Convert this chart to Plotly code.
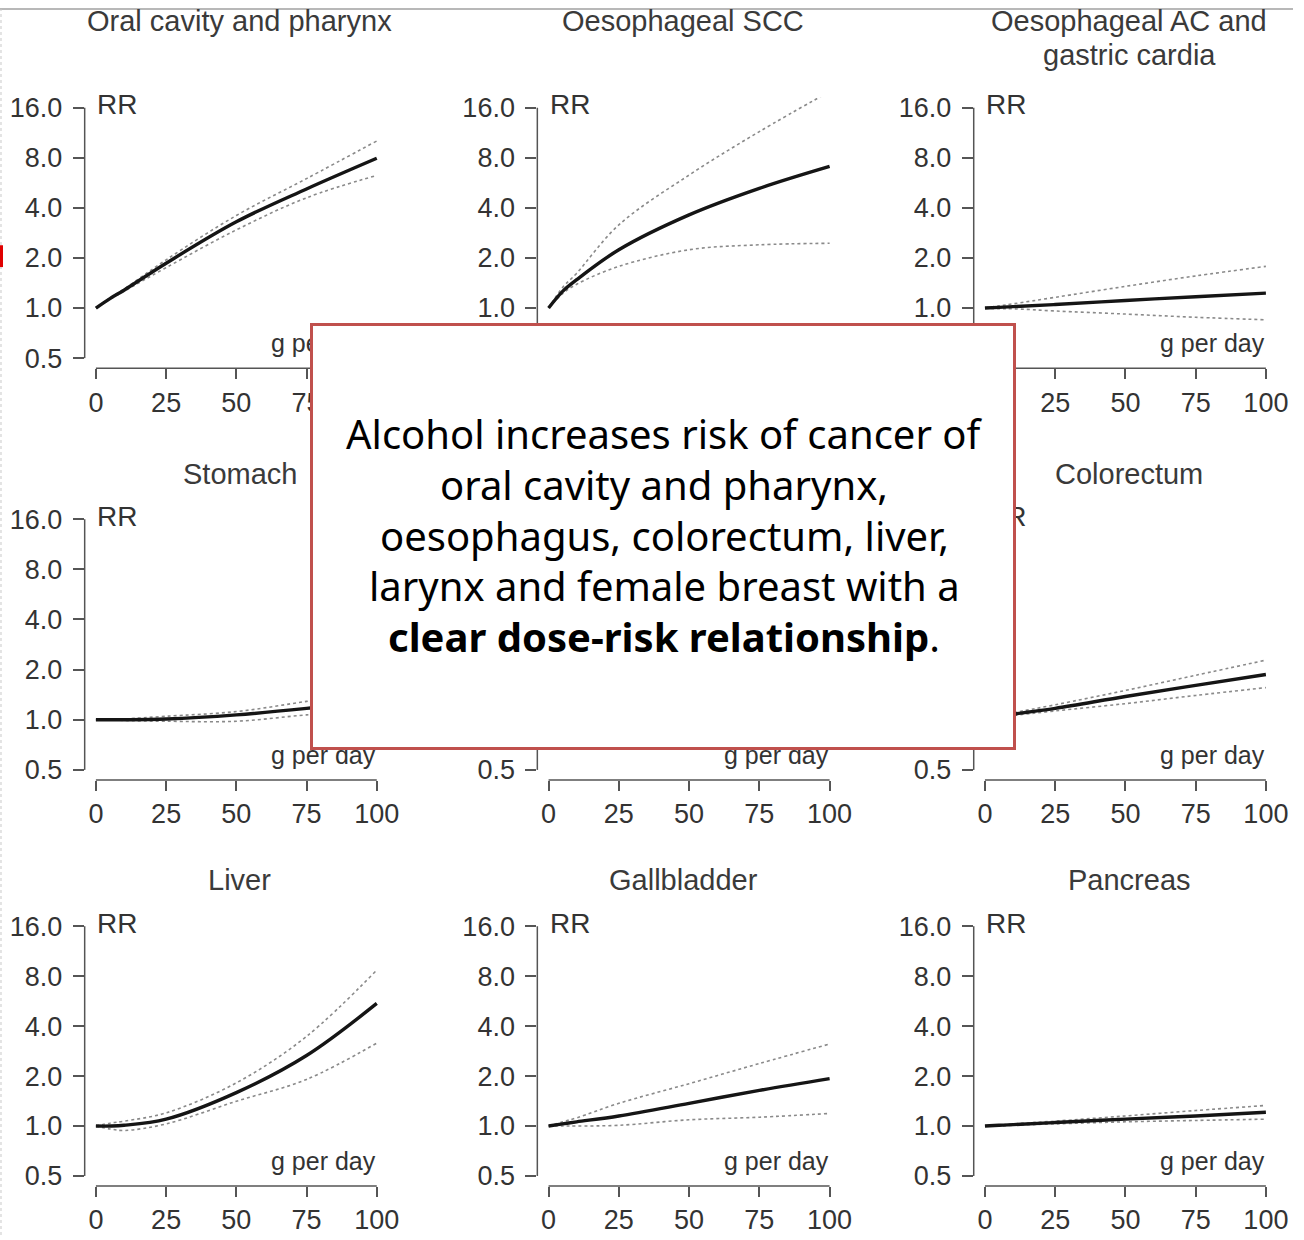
import math
import plotly.graph_objects as go

W, H = 1304, 1240

# ---------------- data ----------------
dose = [0, 5, 10, 25, 50, 75, 100]          # g per day

oral_rr    = [1.00, 1.14, 1.28, 1.86, 3.30, 5.20, 7.95]
oral_hi    = [1.00, 1.15, 1.30, 1.95, 3.60, 6.00, 10.1]
oral_lo    = [1.00, 1.13, 1.26, 1.75, 2.95, 4.60, 6.27]

oscc_rr    = [1.00, 1.26, 1.48, 2.24, 3.63, 5.24, 7.10]
oscc_hi    = [1.00, 1.33, 1.62, 3.16, 6.30, 11.5, 20.0]
oscc_lo    = [1.00, 1.22, 1.39, 1.78, 2.24, 2.40, 2.45]

oac_rr     = [1.00, 1.01, 1.02, 1.05, 1.11, 1.17, 1.23]
oac_hi     = [1.00, 1.03, 1.06, 1.16, 1.35, 1.56, 1.78]
oac_lo     = [1.00, 0.99, 0.99, 0.96, 0.92, 0.88, 0.85]

stom_rr    = [1.00, 1.00, 1.00, 1.01, 1.07, 1.17, 1.30]
stom_hi    = [1.00, 1.00, 1.01, 1.05, 1.12, 1.29, 1.50]
stom_lo    = [1.00, 1.00, 0.99, 0.98, 0.98, 1.07, 1.15]

colo_rr    = [1.00, 1.04, 1.08, 1.17, 1.38, 1.61, 1.87]
colo_hi    = [1.00, 1.05, 1.10, 1.23, 1.50, 1.85, 2.28]
colo_lo    = [1.00, 1.03, 1.06, 1.13, 1.25, 1.40, 1.56]

liver_rr   = [1.00, 1.00, 1.01, 1.10, 1.59, 2.66, 5.48]
liver_hi   = [1.00, 1.04, 1.07, 1.20, 1.82, 3.47, 8.70]
liver_lo   = [1.00, 0.96, 0.94, 1.03, 1.41, 1.91, 3.16]

gall_rr    = [1.00, 1.03, 1.06, 1.15, 1.37, 1.64, 1.93]
gall_hi    = [1.00, 1.06, 1.12, 1.37, 1.80, 2.38, 3.12]
gall_lo    = [1.00, 1.00, 1.00, 1.01, 1.09, 1.13, 1.19]

panc_rr    = [1.00, 1.01, 1.02, 1.05, 1.10, 1.15, 1.21]
panc_hi    = [1.00, 1.01, 1.03, 1.07, 1.15, 1.24, 1.33]
panc_lo    = [1.00, 1.00, 1.01, 1.03, 1.06, 1.08, 1.10]

panel_titles = ["Oral cavity and pharynx", "Oesophageal SCC",
                "Oesophageal AC and<br>gastric cardia",
                "Stomach", "", "Colorectum",
                "Liver", "Gallbladder", "Pancreas"]

panel_series = [(oral_rr, oral_hi, oral_lo), (oscc_rr, oscc_hi, oscc_lo),
                (oac_rr, oac_hi, oac_lo), (stom_rr, stom_hi, stom_lo), None,
                (colo_rr, colo_hi, colo_lo), (liver_rr, liver_hi, liver_lo),
                (gall_rr, gall_hi, gall_lo), (panc_rr, panc_hi, panc_lo)]

x_ticks = [0, 25, 50, 75, 100]
y_ticks = [0.5, 1, 2, 4, 8, 16]
y_tick_text = ["0.5", "1.0", "2.0", "4.0", "8.0", "16.0"]

x_label = "g per day"
y_label = "RR"
message_lines = ["Alcohol increases risk of cancer of",
                 "oral cavity and pharynx,",
                 "oesophagus, colorectum, liver,",
                 "larynx and female breast with a",
                 "<b>clear dose-risk relationship</b>."]

# ---------------- layout geometry (pixels) ----------------
cols_px = [(85.4, 391.3), (541.9, 848.0), (982.0, 1288.0)]
rows_px = [(94.4, 366.8), (508.9, 781.6), (918.9, 1190.6)]
title_x = [242, 689, 1139]
title_y = [17, 473, 882]
msg_y = [433, 484, 535, 586, 637]

X_RANGE = [-4, 104]
L2 = math.log10(2)
Y_RANGE = [math.log10(0.5) - 0.2 * L2, math.log10(16) + 0.2 * L2]

AX_COL = "#555555"
TXT_COL = "#333333"
FONT = "Liberation Sans, Arial, sans-serif"

fig = go.Figure()
shapes = []
annotations = []

for k in range(9):
    r, c = divmod(k, 3)
    i = k + 1
    xs = "" if i == 1 else str(i)
    xa, ya = "x" + xs, "y" + xs
    x0, x1 = cols_px[c]
    y0, y1 = rows_px[r]
    fig.layout["xaxis" + xs] = dict(
        domain=[x0 / W, x1 / W], anchor=ya, range=X_RANGE,
        tickvals=x_ticks, ticks="outside", ticklen=10, tickwidth=1.5,
        tickcolor=AX_COL, showline=False, showgrid=False, zeroline=False,
        tickfont=dict(family=FONT, size=27, color=TXT_COL),
        ticklabelstandoff=0, fixedrange=True)
    fig.layout["yaxis" + xs] = dict(
        domain=[1 - y1 / H, 1 - y0 / H], anchor=xa, type="log", range=Y_RANGE,
        tickvals=y_ticks, ticktext=y_tick_text, ticks="outside", ticklen=11,
        tickwidth=1.5, tickcolor=AX_COL, showline=False, showgrid=False,
        zeroline=False, tickfont=dict(family=FONT, size=27, color=TXT_COL),
        ticklabelstandoff=5, fixedrange=True)

    # R-style axis lines spanning first to last tick only
    shapes.append(dict(type="line", xref=xa + " domain", yref=ya + " domain",
                       x0=4 / 108, x1=104 / 108, y0=0, y1=0,
                       line=dict(color=AX_COL, width=1.5)))
    shapes.append(dict(type="line", xref=xa + " domain", yref=ya + " domain",
                       x0=0, x1=0, y0=0.2 / 5.4, y1=5.2 / 5.4,
                       line=dict(color=AX_COL, width=1.5)))

    ser = panel_series[k]
    if ser is not None:
        rr, hi, lo = ser
        for band in (hi, lo):
            fig.add_trace(go.Scatter(x=dose, y=band, xaxis=xa, yaxis=ya,
                                     mode="lines", line_shape="spline",
                                     line=dict(color="#8a8a8a", width=1.6, dash="dot"),
                                     showlegend=False, hoverinfo="skip"))
        fig.add_trace(go.Scatter(x=dose, y=rr, xaxis=xa, yaxis=ya,
                                 mode="lines", line_shape="spline",
                                 line=dict(color="#151515", width=3.4),
                                 showlegend=False, hoverinfo="skip"))

    # panel title
    t = panel_titles[k]
    if t:
        lines = t.split("<br>")
        for j, ln in enumerate(lines):
            annotations.append(dict(text=ln, xref="paper", yref="paper",
                                    x=title_x[c] / W, y=1 - (title_y[r] + 34 * j) / H,
                                    xanchor="center", yanchor="middle", showarrow=False,
                                    font=dict(family=FONT, size=29, color="#3a3a3a")))
    # RR label
    annotations.append(dict(text=y_label, xref=xa, yref=ya + " domain",
                            x=0, y=5.2 / 5.4, xanchor="left", yanchor="middle",
                            xshift=-1, yshift=3, showarrow=False,
                            font=dict(family=FONT, size=28, color=TXT_COL)))
    # g per day label
    annotations.append(dict(text=x_label, xref=xa, yref=ya + " domain",
                            x=100, y=0, xanchor="right", yanchor="middle",
                            yshift=25, xshift=1, showarrow=False,
                            font=dict(family=FONT, size=25, color=TXT_COL)))

# overlay message box (drawn last so it covers what lies beneath)
annotations.append(dict(text="\u00a0", xref="paper", yref="paper",
                        x=669 / W, y=1 - 536.5 / H, xanchor="center", yanchor="middle",
                        width=698, height=419, bgcolor="white",
                        bordercolor="#c0504d", borderwidth=3, borderpad=1,
                        showarrow=False, font=dict(size=10)))
for ln, yy in zip(message_lines, msg_y):
    annotations.append(dict(text=ln, xref="paper", yref="paper",
                            x=670 / W, y=1 - yy / H, xanchor="center", yanchor="middle",
                            showarrow=False,
                            font=dict(family="Noto Sans, Open Sans, sans-serif",
                                      size=40, color="#000000")))

# page-frame artefacts of the screenshot
shapes.append(dict(type="line", xref="paper", yref="paper", x0=0, x1=1,
                   y0=1 - 5 / H, y1=1 - 5 / H, line=dict(color="#a0a0a0", width=1.5)))
shapes.append(dict(type="line", xref="paper", yref="paper", x0=1 / W, x1=1 / W,
                   y0=0, y1=1 - 5 / H, line=dict(color="#c8c8c8", width=1, dash="dot")))
shapes.append(dict(type="rect", xref="paper", yref="paper", x0=0, x1=3 / W,
                   y0=1 - 265 / H, y1=1 - 243 / H, line=dict(width=0), fillcolor="#e00000"))

fig.update_layout(width=W, height=H, margin=dict(l=0, r=0, t=0, b=0),
                  paper_bgcolor="white", plot_bgcolor="white",
                  shapes=shapes, annotations=annotations, showlegend=False)

fig.write_html("out.html", config={"displayModeBar": False},
               post_script="document.body.style.margin='0';document.body.style.overflow='hidden';")
